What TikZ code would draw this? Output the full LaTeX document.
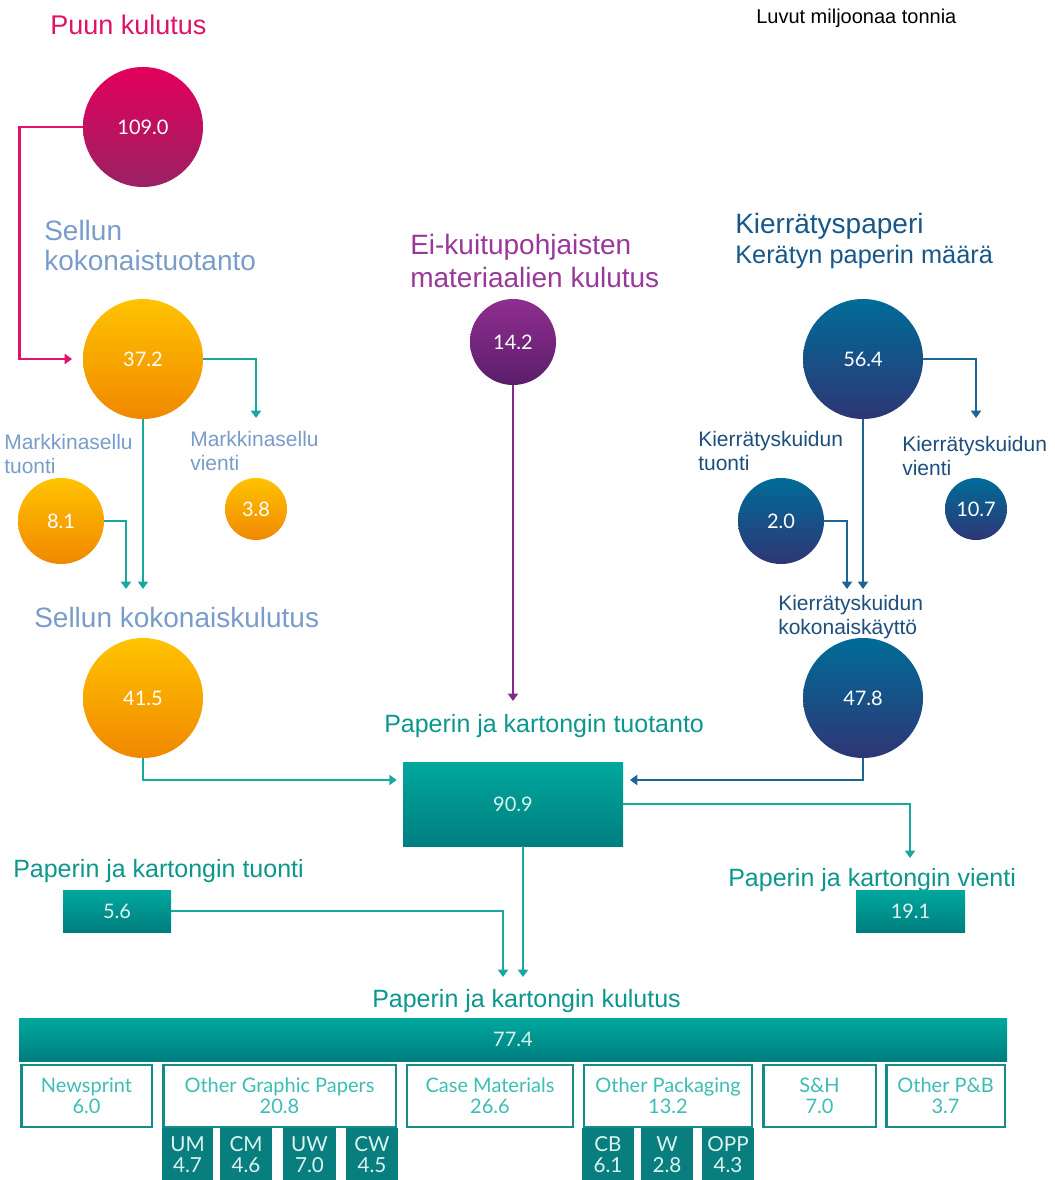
\documentclass[tikz,border=0pt]{standalone}
\usepackage{fontspec}
\setmainfont{Liberation Sans}
\newfontfamily\numfont{Lato}
\usetikzlibrary{arrows.meta,calc}

% palette
\definecolor{crimsonT}{HTML}{E4005C}
\definecolor{crimsonB}{HTML}{9A2163}
\definecolor{ambT}{HTML}{FFC300}
\definecolor{ambB}{HTML}{F08800}
\definecolor{navyT}{HTML}{006C98}
\definecolor{navyM}{HTML}{074F80}
\definecolor{navyB}{HTML}{2E3675}
\definecolor{plumT}{HTML}{8F2E8F}
\definecolor{plumB}{HTML}{5B1E6B}
\definecolor{tealT}{HTML}{00A89D}
\definecolor{tealB}{HTML}{007E7F}
\definecolor{tealDark}{HTML}{087F7E}
\definecolor{tealLine}{HTML}{19A8A0}
\definecolor{tealText}{HTML}{0B978E}
\definecolor{tealSoft}{HTML}{3DBDB4}
\definecolor{tealEdge}{HTML}{148C88}
\definecolor{redLine}{HTML}{E5106A}
\definecolor{navyLine}{HTML}{1E6497}
\definecolor{plumLine}{HTML}{85298B}
\definecolor{puunText}{HTML}{E0126A}
\definecolor{selluText}{HTML}{7A9CCB}
\definecolor{plumText}{HTML}{9A389A}
\definecolor{navyText}{HTML}{17578A}
\definecolor{navyText2}{HTML}{1C4F7E}
\definecolor{paleText}{HTML}{DDF3F0}

% multi-line headings are placed by the baseline of their last line
\tikzset{
  heading/.style={anchor=base west, inner sep=0pt, align=left,
    font=\fontsize{21}{22.5}\selectfont},
  subhead/.style={anchor=base west, inner sep=0pt, align=left,
    font=\fontsize{15.75}{17.5}\selectfont},
  tealhead/.style={anchor=base west, inner sep=0pt, text=tealText,
    font=\fontsize{18.75}{20}\selectfont},
  bubble/.style={circle, inner sep=0pt, text=white,
    font=\numfont\fontsize{15}{18}\selectfont},
  bubbleL/.style={bubble, minimum size=90pt},
  bubbleM/.style={bubble, minimum size=64.5pt},
  bubbleS/.style={bubble, minimum size=46.5pt},
  amber/.style={top color=ambT, bottom color=ambB},
  navy/.style={top color=navyT, middle color=navyM, bottom color=navyB},
  tealbox/.style={rectangle, inner sep=0pt, top color=tealT, bottom color=tealB,
    text=paleText, font=\numfont\fontsize{15}{18}\selectfont},
  catbox/.style={rectangle, inner sep=0pt, draw=tealEdge, line width=2pt,
    fill=white, minimum height=46.5pt, align=center, text=tealSoft,
    font=\numfont\fontsize{15}{15.75}\selectfont},
  subbox/.style={rectangle, inner sep=0pt, fill=tealDark, minimum height=40.5pt,
    align=center, text=paleText, font=\numfont\fontsize{15.5}{15.75}\selectfont},
  flow/.style={line width=2pt, -{Triangle[width=7.5pt,length=5.5pt]}},
}

\begin{document}
\begin{tikzpicture}[x=0.75pt,y=-0.75pt]
\fill[white] (0,0) rectangle (1054,1180);
\useasboundingbox (0,0) rectangle (1054,1180);

% ---------- wood and pulp (left column) ----------
\node[heading, text=puunText, font=\fontsize{20.25}{22}\selectfont] (tPuun) at (50,35) {Puun kulutus};
\node[bubbleL, top color=crimsonT, bottom color=crimsonB] (c109) at (143,127) {109.0};
\node[heading, text=selluText] (tSelluTuot) at (44,271) {Sellun\\kokonaistuotanto};
\node[bubbleL, amber] (c372) at (143,359) {37.2};
\node[subhead, text=selluText] (tMsTuonti) at (4,473) {Markkinasellu\\tuonti};
\node[subhead, text=selluText] (tMsVienti) at (190,470) {Markkinasellu\\vienti};
\node[bubbleM, amber] (c81) at (61,521) {8.1};
\node[bubbleS, amber] (c38) at (256,509) {3.8};
\node[heading, text=selluText] (tSelluKul) at (34,627) {Sellun kokonaiskulutus};
\node[bubbleL, amber] (c415) at (143,698) {41.5};

% ---------- non-fibre materials (middle) ----------
\node[heading, text=plumText, font=\fontsize{21}{24.5}\selectfont] (tEiKuitu) at (410,287) {Ei-kuitupohjaisten\\materiaalien kulutus};
\node[bubbleM, top color=plumT, bottom color=plumB] (c142) at (513,342) {14.2};

% ---------- recovered paper (right column) ----------
\node[heading, text=navyText] (tKierr) at (735,264) {Kierrätyspaperi\\{\fontsize{19}{22.5}\selectfont Kerätyn paperin määrä}};
\node[bubbleL, navy] (c564) at (863,359) {56.4};
\node[subhead, text=navyText2] (tKkTuonti) at (698,470) {Kierrätyskuidun\\tuonti};
\node[subhead, text=navyText2] (tKkVienti) at (902,475) {Kierrätyskuidun\\vienti};
\node[bubbleM, navy] (c20) at (781,521) {2.0};
\node[bubbleS, navy] (c107) at (976,509) {10.7};
\node[subhead, text=navyText2, font=\fontsize{15.75}{18}\selectfont] (tKkKok) at (778,634) {Kierrätyskuidun\\kokonaiskäyttö};
\node[bubbleL, navy] (c478) at (863,698) {47.8};

% ---------- paper and board ----------
\node[tealhead] (tTuotanto) at (384,732) {Paperin ja kartongin tuotanto};
\node[tealbox, minimum width=165pt, minimum height=63pt] (b909) at (513,804) {90.9};
\node[tealhead] (tTuonti) at (13,877) {Paperin ja kartongin tuonti};
\node[tealhead] (tVienti) at (728,886) {Paperin ja kartongin vienti};
\node[tealbox, minimum width=81pt, minimum height=31.5pt] (b56) at (117,911) {5.6};
\node[tealbox, minimum width=81.75pt, minimum height=31.5pt] (b191) at (910.5,911) {19.1};
\node[tealhead] (tKulutus) at (372,1007) {Paperin ja kartongin kulutus};
\node[tealbox, minimum width=741pt, minimum height=32.25pt] (b774) at (513,1039.5) {77.4};

% consumption by grade
\node[catbox, minimum width=98pt]    (kNews) at (86.5,1096)  {Newsprint\\6.0};
\node[catbox, minimum width=174.5pt] (kOGP)  at (279.5,1096) {Other Graphic Papers\\20.8};
\node[catbox, minimum width=124.5pt] (kCase) at (490,1096)   {Case Materials\\26.6};
\node[catbox, minimum width=126pt]   (kOP)   at (668,1096)   {Other Packaging\\13.2};
\node[catbox, minimum width=84.5pt]  (kSH)   at (819.5,1096) {S\&H\\7.0};
\node[catbox, minimum width=89pt]    (kOPB)  at (945.5,1096) {Other P\&B\\3.7};

\node[subbox, minimum width=38.25pt] (sUM)  at (187.5,1155) {UM\\4.7};
\node[subbox, minimum width=39pt]    (sCM)  at (246,1155)   {CM\\4.6};
\node[subbox, minimum width=39.75pt] (sUW)  at (309.5,1155) {UW\\7.0};
\node[subbox, minimum width=39pt]    (sCW)  at (372,1155)   {CW\\4.5};
\node[subbox, minimum width=39pt]    (sCB)  at (608,1155)   {CB\\6.1};
\node[subbox, minimum width=39pt]    (sW)   at (667,1155)   {W\\2.8};
\node[subbox, minimum width=39pt]    (sOPP) at (728,1155)   {OPP\\4.3};

\node[anchor=base west, inner sep=0pt, font=\fontsize{15}{17}\selectfont] (tLuvut) at (756,24) {Luvut miljoonaa tonnia};

% ---------- arrow targets ----------
\coordinate (aMsVienti) at (256,418);
\coordinate (aSK1) at (143,589);
\coordinate (aSK2) at (126,589);
\coordinate (aTuot) at (513,701);
\coordinate (aKkVienti) at (976,418);
\coordinate (aKk1) at (863,589);
\coordinate (aKk2) at (847,589);
\coordinate (aVienti) at (910,858);
\coordinate (aKul1) at (503,977);
\coordinate (aKul2) at (523,977);

% ---------- flows ----------
\draw[flow, redLine, shorten >=8pt] (c109.west) -- ++(-63,0) |- (c372.west);
\draw[flow, tealLine] (c372.east) -| (aMsVienti);
\draw[flow, tealLine] (c372.south) -- (aSK1);
\draw[flow, tealLine] (c81.east) -| (aSK2);
\draw[flow, tealLine, shorten >=4.5pt] (c415.south) |- ([yshift=18pt]b909.west);

\draw[flow, plumLine, line width=1.6pt] (c142.south) -- (aTuot);

\draw[flow, navyLine] (c564.east) -| (aKkVienti);
\draw[flow, navyLine] (c564.south) -- (aKk1);
\draw[flow, navyLine] (c20.east) -| (aKk2);
\draw[flow, navyLine, shorten >=5pt] (c478.south) |- ([yshift=18pt]b909.east);

\draw[flow, tealLine] (b909.east) -| (aVienti);
\draw[flow, tealLine] (b56.east) -| (aKul1);
\draw[flow, tealLine] ([xshift=7.5pt]b909.south) -- (aKul2);
\end{tikzpicture}
\end{document}
